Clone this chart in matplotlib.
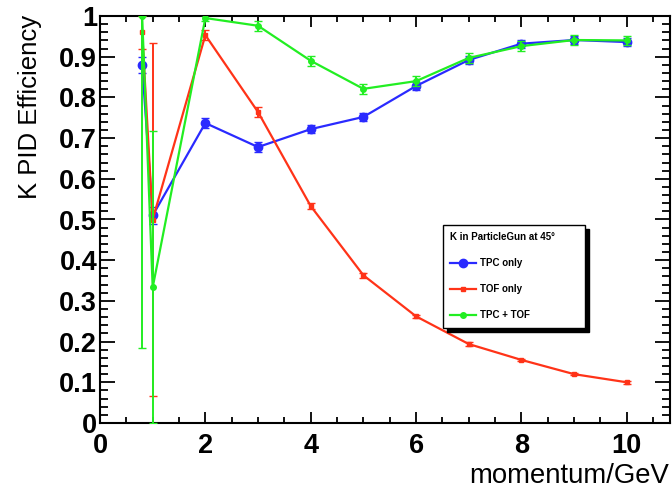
import matplotlib.pyplot as plt
from matplotlib.ticker import MultipleLocator, FuncFormatter

# ===================== data =====================
momentum = [0.8, 1.0, 2, 3, 4, 5, 6, 7, 8, 9, 10]

tpc_eff = [0.880, 0.510, 0.737, 0.678, 0.722, 0.752, 0.828, 0.892, 0.932, 0.941, 0.936]
tpc_err = [0.020, 0.020, 0.012, 0.012, 0.010, 0.010, 0.010, 0.010, 0.010, 0.010, 0.010]

tof_eff = [0.960, 0.500, 0.953, 0.764, 0.533, 0.363, 0.262, 0.194, 0.155, 0.120, 0.100]
tof_lo = [0.040, 0.433, 0.012, 0.012, 0.008, 0.006, 0.004, 0.004, 0.003, 0.003, 0.003]
tof_hi = [0.040, 0.433, 0.012, 0.012, 0.008, 0.006, 0.004, 0.004, 0.003, 0.003, 0.003]

both_eff = [1.000, 0.333, 0.995, 0.976, 0.890, 0.821, 0.840, 0.897, 0.926, 0.941, 0.940]
both_lo = [0.815, 0.333, 0.008, 0.012, 0.012, 0.012, 0.012, 0.012, 0.012, 0.012, 0.012]
both_hi = [0.000, 0.384, 0.008, 0.012, 0.012, 0.012, 0.012, 0.012, 0.012, 0.012, 0.012]

labels = ["TPC only", "TOF only", "TPC + TOF"]
legend_title = "K in ParticleGun at 45°"

# ===================== plot =====================
plt.rcParams['font.family'] = ['Liberation Sans', 'DejaVu Sans']

fig = plt.figure(figsize=(6.72, 4.91), dpi=100)
ax = fig.add_axes([100 / 672, 68 / 491, 570 / 672, 407 / 491])

blue = "#2a2aff"
red = "#ff3318"
green = "#22ee22"

c1 = ax.errorbar(momentum, tpc_eff, yerr=tpc_err, color=blue, lw=1.6, marker="o",
                 ms=6, capsize=3, elinewidth=1.4, label=labels[0], zorder=3)
c2 = ax.errorbar(momentum, tof_eff, yerr=[tof_lo, tof_hi], color=red, lw=1.6, marker="s",
                 ms=3, capsize=3, elinewidth=1.4, label=labels[1], zorder=4)
c3 = ax.errorbar(momentum, both_eff, yerr=[both_lo, both_hi], color=green, lw=1.6, marker="o",
                 ms=4, capsize=3, elinewidth=1.4, label=labels[2], zorder=5)

ax.set_xlim(0, 10.82)
ax.set_ylim(0, 1)

ax.xaxis.set_major_locator(MultipleLocator(2))
ax.xaxis.set_minor_locator(MultipleLocator(0.5))
ax.yaxis.set_major_locator(MultipleLocator(0.1))
ax.yaxis.set_minor_locator(MultipleLocator(0.02))
ax.yaxis.set_major_formatter(FuncFormatter(lambda v, p: f"{v:g}"))
ax.xaxis.set_major_formatter(FuncFormatter(lambda v, p: f"{v:g}"))

ax.tick_params(axis="both", which="both", direction="in", top=True, right=True,
               width=1.3, color="black")
ax.tick_params(axis="x", which="major", length=8, pad=7)
ax.tick_params(axis="x", which="minor", length=4.3)
ax.tick_params(axis="y", which="major", length=11, pad=2)
ax.tick_params(axis="y", which="minor", length=5.5)
for lab in ax.get_xticklabels() + ax.get_yticklabels():
    lab.set_fontweight("bold")
    lab.set_fontsize(19.5)

for s in ax.spines.values():
    s.set_linewidth(1.5)

# axis titles like ROOT: aligned to the axis ends
fig.text(18 / 672, 1 - 15 / 491, "K PID Efficiency", rotation=90,
         ha="left", va="top", fontsize=18.5)
fig.text(469 / 672, 1 - 483 / 491, "momentum/GeV", ha="left", va="baseline",
         fontsize=19.8)

# legend box (ROOT TLegend style: line + marker, no error bars)
handles = [c1.lines[0], c2.lines[0], c3.lines[0]]
leg = ax.legend(handles, labels, title=legend_title, loc="upper left",
                bbox_to_anchor=(443 / 672, 1 - 325 / 491, 142 / 672, 100 / 491),
                bbox_transform=fig.transFigure, mode="expand",
                prop={"weight": "bold", "size": 7}, title_fontproperties={"weight": "bold", "size": 7},
                alignment="left", fancybox=False, edgecolor="black", framealpha=1,
                shadow={"color": "black", "ox": 3, "oy": -3, "alpha": 1},
                handlelength=2.6, borderpad=0.75, labelspacing=1.65, handletextpad=0.5,
                borderaxespad=0)
leg.get_frame().set_linewidth(1.0)
leg.set_zorder(10)

fig.savefig("out.png", dpi=100)
